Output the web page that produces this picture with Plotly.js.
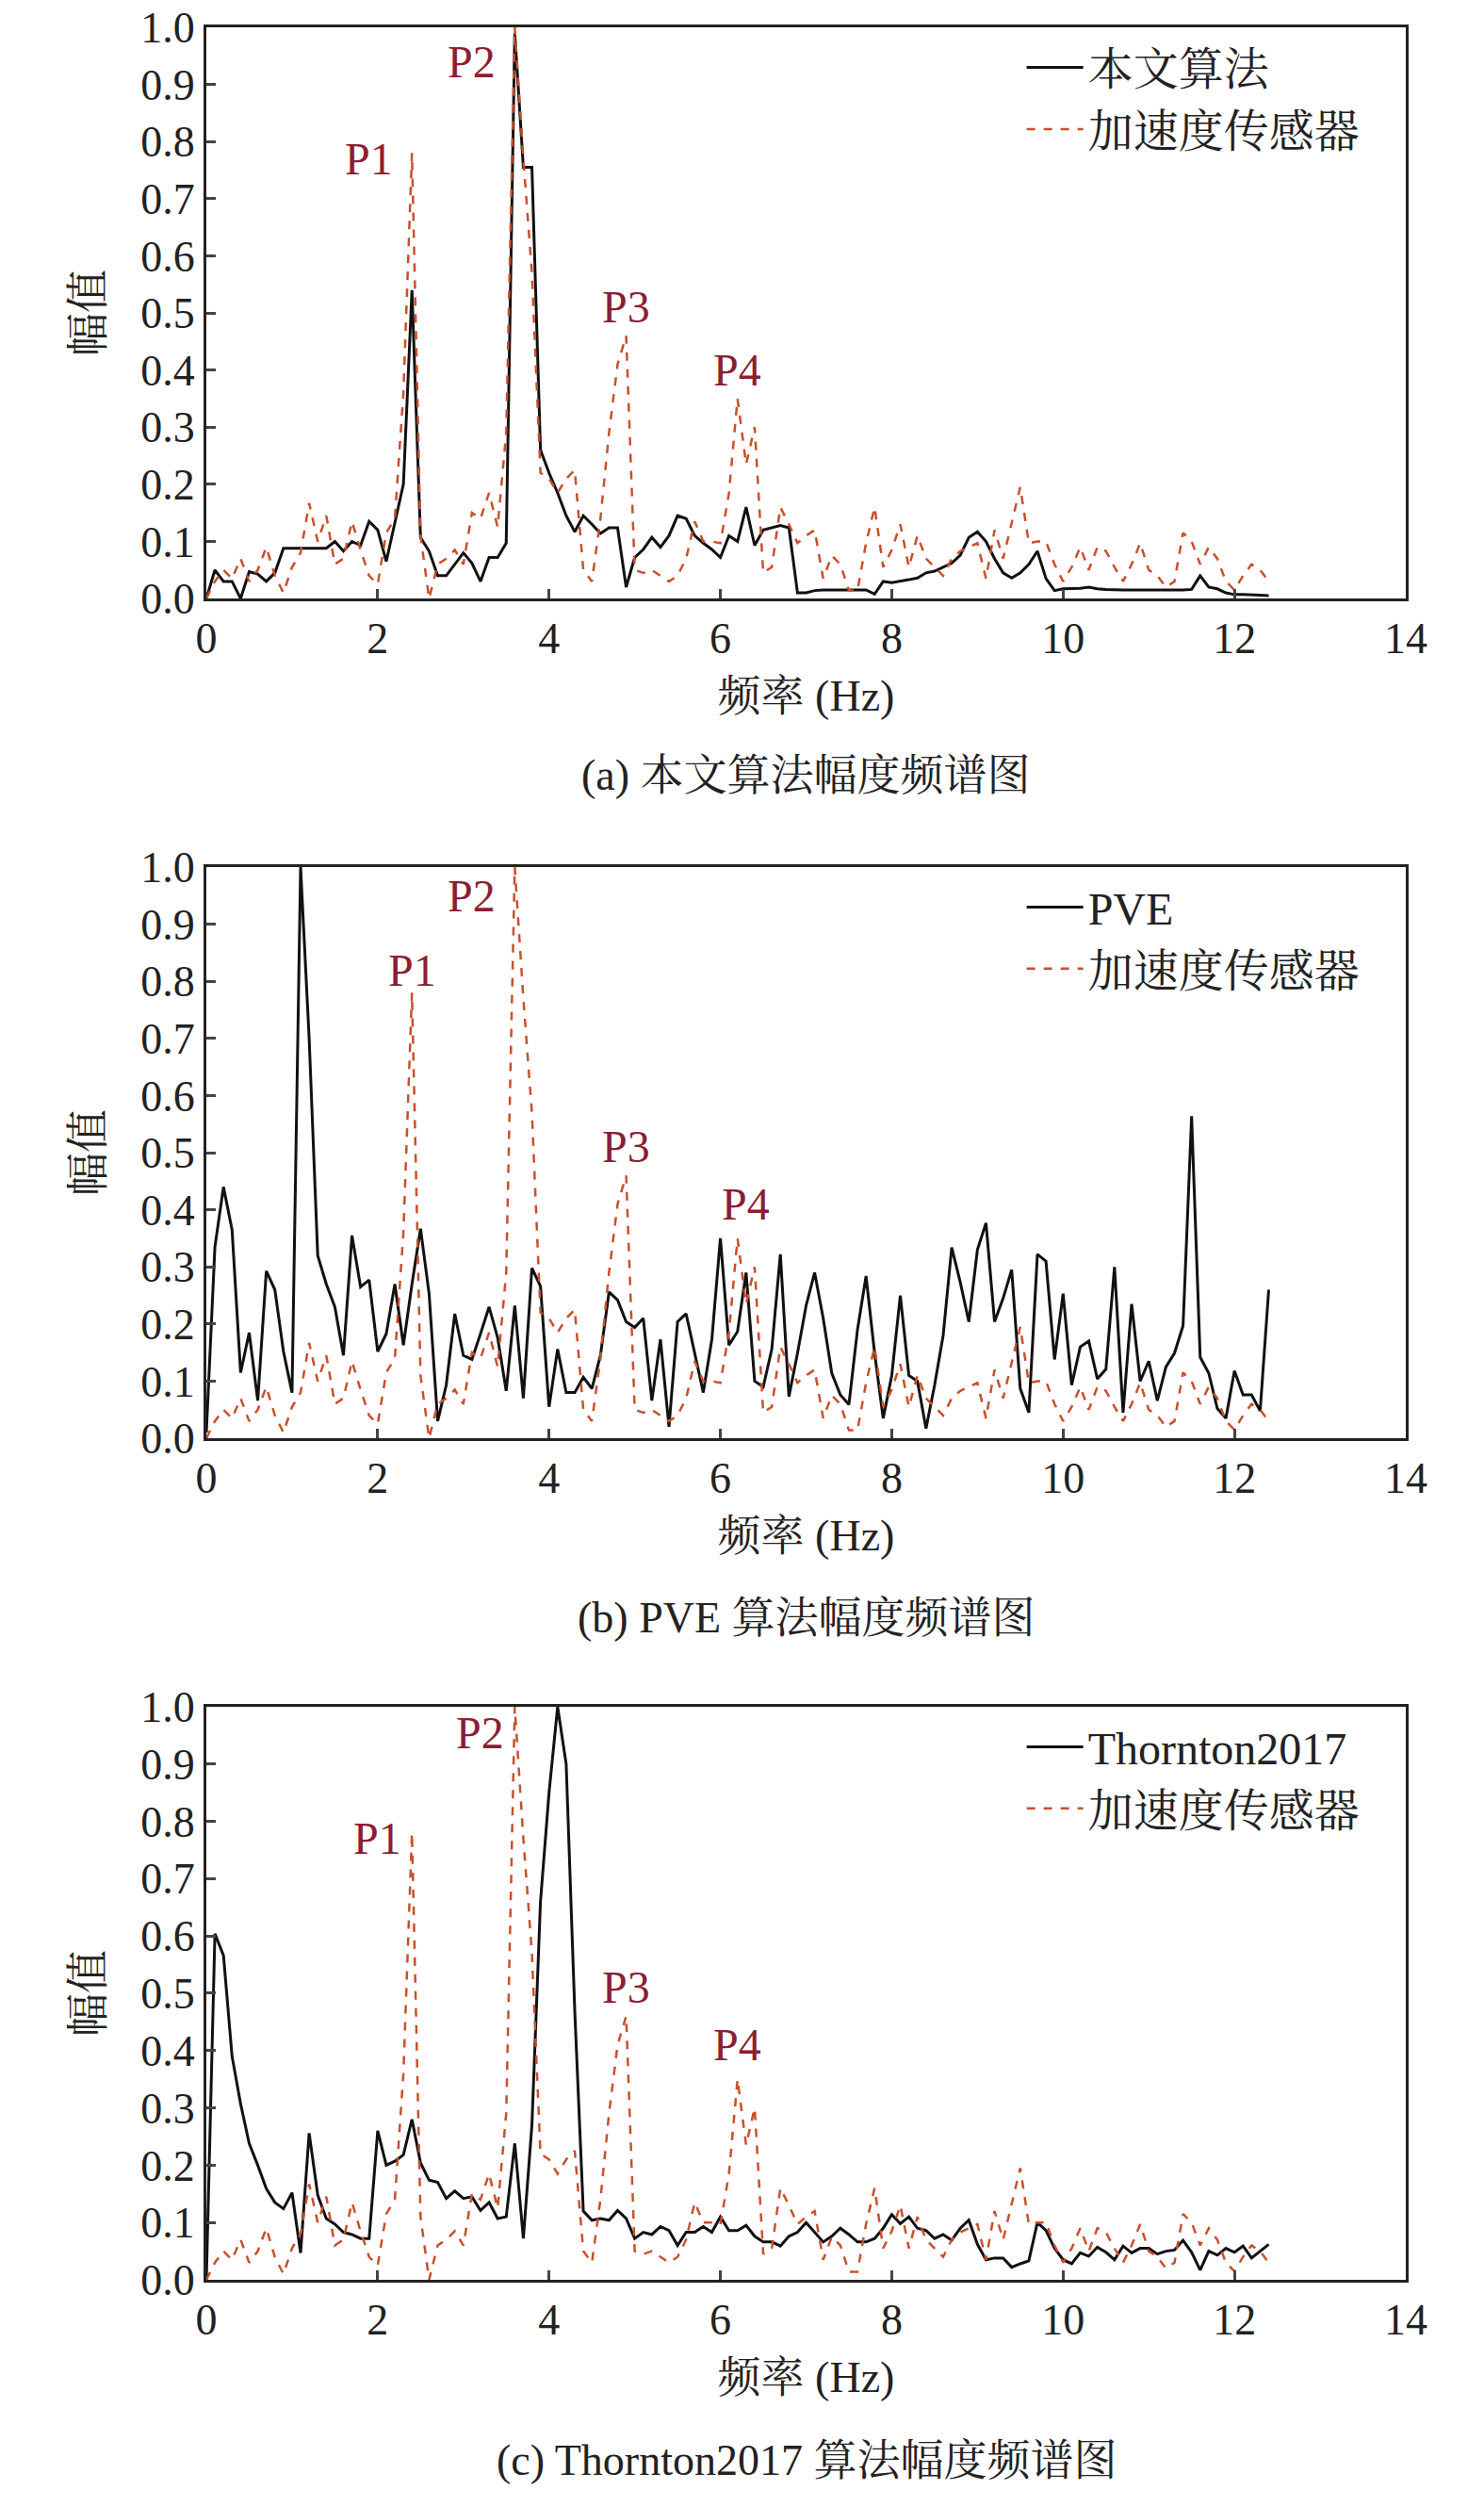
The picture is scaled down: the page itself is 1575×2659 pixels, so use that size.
<!DOCTYPE html>
<html><head><meta charset="utf-8">
<script src="https://cdn.plot.ly/plotly-3.0.1.min.js"></script>
<style>body{margin:0;background:#fff}</style></head>
<body><div id="c" style="width:1575px;height:2659px"></div>
<script>
const freq = Array.from({length:125},(_,i)=>+(i*0.1).toFixed(1));
const accel = [0,0.03,0.05,0.035,0.07,0.03,0.05,0.09,0.04,0.01,0.055,0.08,0.167,0.10,0.145,0.06,0.07,0.135,0.085,0.04,
0.025,0.115,0.14,0.36,0.78,0.11,0.0,0.06,0.07,0.085,0.06,0.15,0.14,0.185,0.125,0.29,1.0,0.77,0.57,0.22,
0.21,0.185,0.21,0.225,0.05,0.03,0.14,0.29,0.41,0.46,0.05,0.045,0.05,0.04,0.03,0.04,0.07,0.135,0.10,0.10,
0.097,0.185,0.35,0.235,0.30,0.045,0.055,0.16,0.13,0.097,0.11,0.12,0.035,0.075,0.06,0.014,0.014,0.097,0.16,0.055,
0.085,0.13,0.055,0.11,0.07,0.055,0.04,0.07,0.083,0.09,0.097,0.035,0.12,0.07,0.13,0.195,0.097,0.10,0.10,0.06,
0.03,0.055,0.09,0.05,0.09,0.083,0.055,0.03,0.06,0.097,0.05,0.04,0.02,0.03,0.115,0.10,0.06,0.09,0.07,0.03,
0.015,0.04,0.06,0.05,0.03];
const ours = [0,0.05,0.03,0.03,0.0,0.047,0.043,0.03,0.045,0.088,0.088,0.088,0.088,0.088,0.088,0.10,0.083,0.10,0.093,0.135,
0.12,0.065,0.13,0.20,0.54,0.107,0.083,0.04,0.04,0.06,0.08,0.062,0.03,0.072,0.072,0.097,0.99,0.755,0.755,0.26,
0.22,0.185,0.145,0.117,0.145,0.13,0.114,0.124,0.124,0.02,0.072,0.086,0.107,0.09,0.11,0.145,0.14,0.11,0.097,0.086,
0.072,0.11,0.10,0.16,0.093,0.12,0.124,0.128,0.124,0.01,0.01,0.014,0.015,0.015,0.016,0.016,0.015,0.015,0.008,0.03,
0.028,0.03,0.033,0.036,0.045,0.048,0.055,0.062,0.076,0.107,0.117,0.10,0.07,0.045,0.036,0.045,0.06,0.083,0.035,0.014,
0.017,0.017,0.018,0.02,0.017,0.016,0.015,0.015,0.015,0.015,0.014,0.014,0.015,0.015,0.015,0.016,0.04,0.02,0.017,0.01,
0.007,0.007,0.007,0.006,0.005];
const pve = [0.01,0.335,0.44,0.365,0.115,0.185,0.066,0.293,0.26,0.152,0.08,1.0,0.7,0.32,0.27,0.23,0.145,0.355,0.265,0.277,
0.152,0.183,0.27,0.163,0.27,0.367,0.253,0.03,0.093,0.218,0.145,0.138,0.183,0.23,0.176,0.083,0.232,0.07,0.298,0.266,
0.055,0.156,0.08,0.08,0.107,0.087,0.145,0.256,0.242,0.204,0.194,0.21,0.066,0.173,0.02,0.204,0.218,0.149,0.08,0.173,
0.35,0.163,0.187,0.29,0.10,0.09,0.156,0.322,0.073,0.149,0.232,0.29,0.21,0.114,0.076,0.059,0.19,0.284,0.149,0.035,
0.11,0.25,0.11,0.10,0.017,0.093,0.18,0.334,0.273,0.204,0.33,0.377,0.204,0.245,0.295,0.087,0.045,0.322,0.31,0.138,
0.253,0.093,0.16,0.17,0.104,0.121,0.30,0.045,0.235,0.10,0.135,0.066,0.125,0.149,0.197,0.564,0.142,0.114,0.052,0.035,
0.118,0.076,0.076,0.048,0.26];
const thornton = [0,0.604,0.566,0.39,0.307,0.238,0.20,0.159,0.135,0.124,0.152,0.047,0.256,0.148,0.107,0.097,0.083,0.079,0.072,0.072,
0.26,0.20,0.207,0.218,0.28,0.204,0.174,0.17,0.142,0.155,0.142,0.145,0.121,0.135,0.107,0.11,0.238,0.072,0.27,0.66,
0.85,1.0,0.9,0.47,0.12,0.104,0.107,0.104,0.121,0.107,0.072,0.083,0.079,0.093,0.086,0.06,0.083,0.083,0.093,0.083,
0.11,0.086,0.086,0.095,0.076,0.066,0.066,0.059,0.076,0.083,0.10,0.083,0.066,0.076,0.09,0.079,0.066,0.066,0.072,0.09,
0.114,0.098,0.11,0.09,0.086,0.072,0.079,0.069,0.09,0.104,0.062,0.035,0.038,0.038,0.022,0.028,0.033,0.10,0.086,0.055,
0.035,0.028,0.047,0.041,0.057,0.048,0.035,0.059,0.047,0.055,0.055,0.045,0.05,0.052,0.069,0.048,0.017,0.05,0.043,0.055,
0.048,0.059,0.038,0.05,0.062];
const methodNames = ['本文算法','PVE','Thornton2017'];
const accelName = '加速度传感器';
const captions = ['(a) 本文算法幅度频谱图','(b) PVE 算法幅度频谱图','(c) Thornton2017 算法幅度频谱图'];
const peakLabels = ['P1','P2','P3','P4'];
const peakPos = [
 [[1.9,0.77],[3.1,0.94],[4.9,0.51],[6.2,0.40]],
 [[2.4,0.82],[3.1,0.95],[4.9,0.51],[6.3,0.41]],
 [[2.0,0.77],[3.2,0.955],[4.9,0.51],[6.2,0.41]]];
const series=[ours,pve,thornton];

const serif='"Liberation Serif","Noto Serif CJK SC","Noto Sans CJK SC",serif';
const doms=[[0.7464,1.0],[0.3736,0.6272],[0,0.2544]];
const capY=[822,1716,2610];
const data=[],ann=[];
const layout={width:1575,height:2659,margin:{l:219,r:83,t:29,b:240},paper_bgcolor:'#fff',plot_bgcolor:'#fff',
 font:{family:serif,size:44,color:'#222'},showlegend:true,annotations:ann};
for(let i=0;i<3;i++){
 const s=i?String(i+1):'';
 const lg='legend'+s;
 data.push({x:freq,y:series[i],type:'scatter',mode:'lines',name:methodNames[i],xaxis:'x'+s,yaxis:'y'+s,legend:lg,
   line:{color:'#111',width:3}});
 data.push({x:freq,y:accel,type:'scatter',mode:'lines',name:accelName,xaxis:'x'+s,yaxis:'y'+s,legend:lg,
   line:{color:'#C9502A',width:2.5,dash:'dash'}});
 const ax={range:[0,14],dtick:2,ticks:'inside',ticklen:10,tickwidth:2.5,showline:true,mirror:true,linecolor:'#222',linewidth:3,
   showgrid:false,zeroline:false,anchor:'y'+s,tickfont:{size:46,family:serif},
   title:{text:'频率 (Hz)',font:{size:46,family:serif},standoff:20}};
 const ay={range:[0,1],dtick:0.1,tickformat:'.1f',ticks:'inside',ticklen:10,tickwidth:2.5,showline:true,mirror:true,linecolor:'#222',linewidth:3,
   showgrid:false,zeroline:false,domain:doms[i],anchor:'x'+s,tickfont:{size:46,family:serif},
   title:{text:'幅值',font:{size:46,family:serif},standoff:26}};
 layout['xaxis'+s]=ax; layout['yaxis'+s]=ay;
 layout[lg]={x:0.68,xanchor:'left',y:doms[i][1]-0.002,yanchor:'top',bgcolor:'rgba(0,0,0,0)',font:{size:48,family:serif,color:'#222'},tracegroupgap:0,itemwidth:60};
 peakLabels.forEach((p,k)=>ann.push({x:peakPos[i][k][0],y:peakPos[i][k][1],xref:'x'+s,yref:'y'+s,text:p,showarrow:false,
   font:{size:48,family:serif,color:'#8B1E34'}}));
 ann.push({x:0.5,y:1-(capY[i]-29)/2390,xref:'paper',yref:'paper',text:captions[i],showarrow:false,yanchor:'middle',
   font:{size:46,family:serif,color:'#222'}});
}
Plotly.newPlot('c',data,layout,{displayModeBar:false});
</script></body></html>
